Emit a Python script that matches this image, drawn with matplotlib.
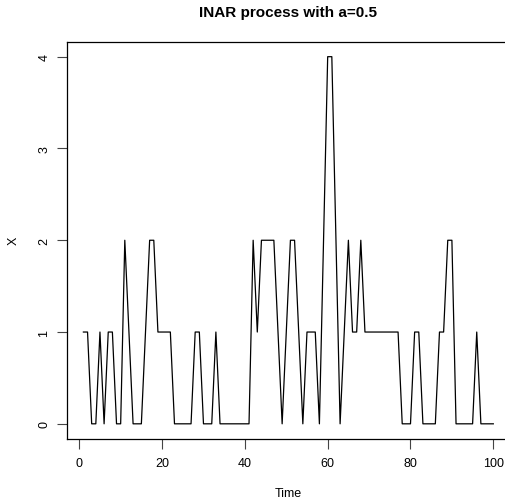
import matplotlib
matplotlib.use("Agg")
import matplotlib.pyplot as plt

plt.rcParams['font.family'] = ['Liberation Sans', 'DejaVu Sans']

# INAR(1) simulated counts, one per time step
time = list(range(1, 101))
x_vals = [1, 1, 0, 0, 1, 0, 1, 1, 0, 0,
          2, 1, 0, 0, 0, 1, 2, 2, 1, 1,
          1, 1, 0, 0, 0, 0, 0, 1, 1, 0,
          0, 0, 1, 0, 0, 0, 0, 0, 0, 0,
          0, 2, 1, 2, 2, 2, 2, 1, 0, 1,
          2, 2, 1, 0, 1, 1, 1, 0, 2, 4,
          4, 2, 0, 1, 2, 1, 1, 2, 1, 1,
          1, 1, 1, 1, 1, 1, 1, 0, 0, 0,
          1, 1, 0, 0, 0, 0, 1, 1, 2, 2,
          0, 0, 0, 0, 0, 1, 0, 0, 0, 0]
x_ticks = [0, 20, 40, 60, 80, 100]
y_ticks = [0, 1, 2, 3, 4]

W, H = 505, 502
fig = plt.figure(figsize=(W / 100, H / 100), dpi=100)
left, right, top, bottom = 67.0, 509.7, 43.0, 439.5
ax = fig.add_axes([left / W, 1 - bottom / H, (right - left) / W, (bottom - top) / H])

ax.plot(time, x_vals, color='black', linewidth=0.9)

ax.set_xlim(1 - 0.04 * 99, 100 + 0.04 * 99)
ax.set_ylim(-0.16, 4.16)
ax.set_xticks(x_ticks)
ax.set_yticks(y_ticks)
ax.set_yticklabels([str(v) for v in y_ticks], rotation=90, va='center')
ax.tick_params(axis='both', direction='out', length=7, width=0.8, labelsize=9,
               color='#444444', pad=6)
ax.tick_params(axis='y', pad=5)

for s in ax.spines.values():
    s.set_linewidth(0.9)
    s.set_color('black')

fig.text(288 / W, 1 - 13 / H, 'INAR process with a=0.5', ha='center', va='center',
         fontsize=11, fontweight='bold')
fig.text(288 / W, 1 - 494 / H, 'Time', ha='center', va='center', fontsize=9)
fig.text(14 / W, 1 - 241 / H, 'X', ha='center', va='center', fontsize=9, rotation=90)

fig.savefig('out.png', dpi=100)
